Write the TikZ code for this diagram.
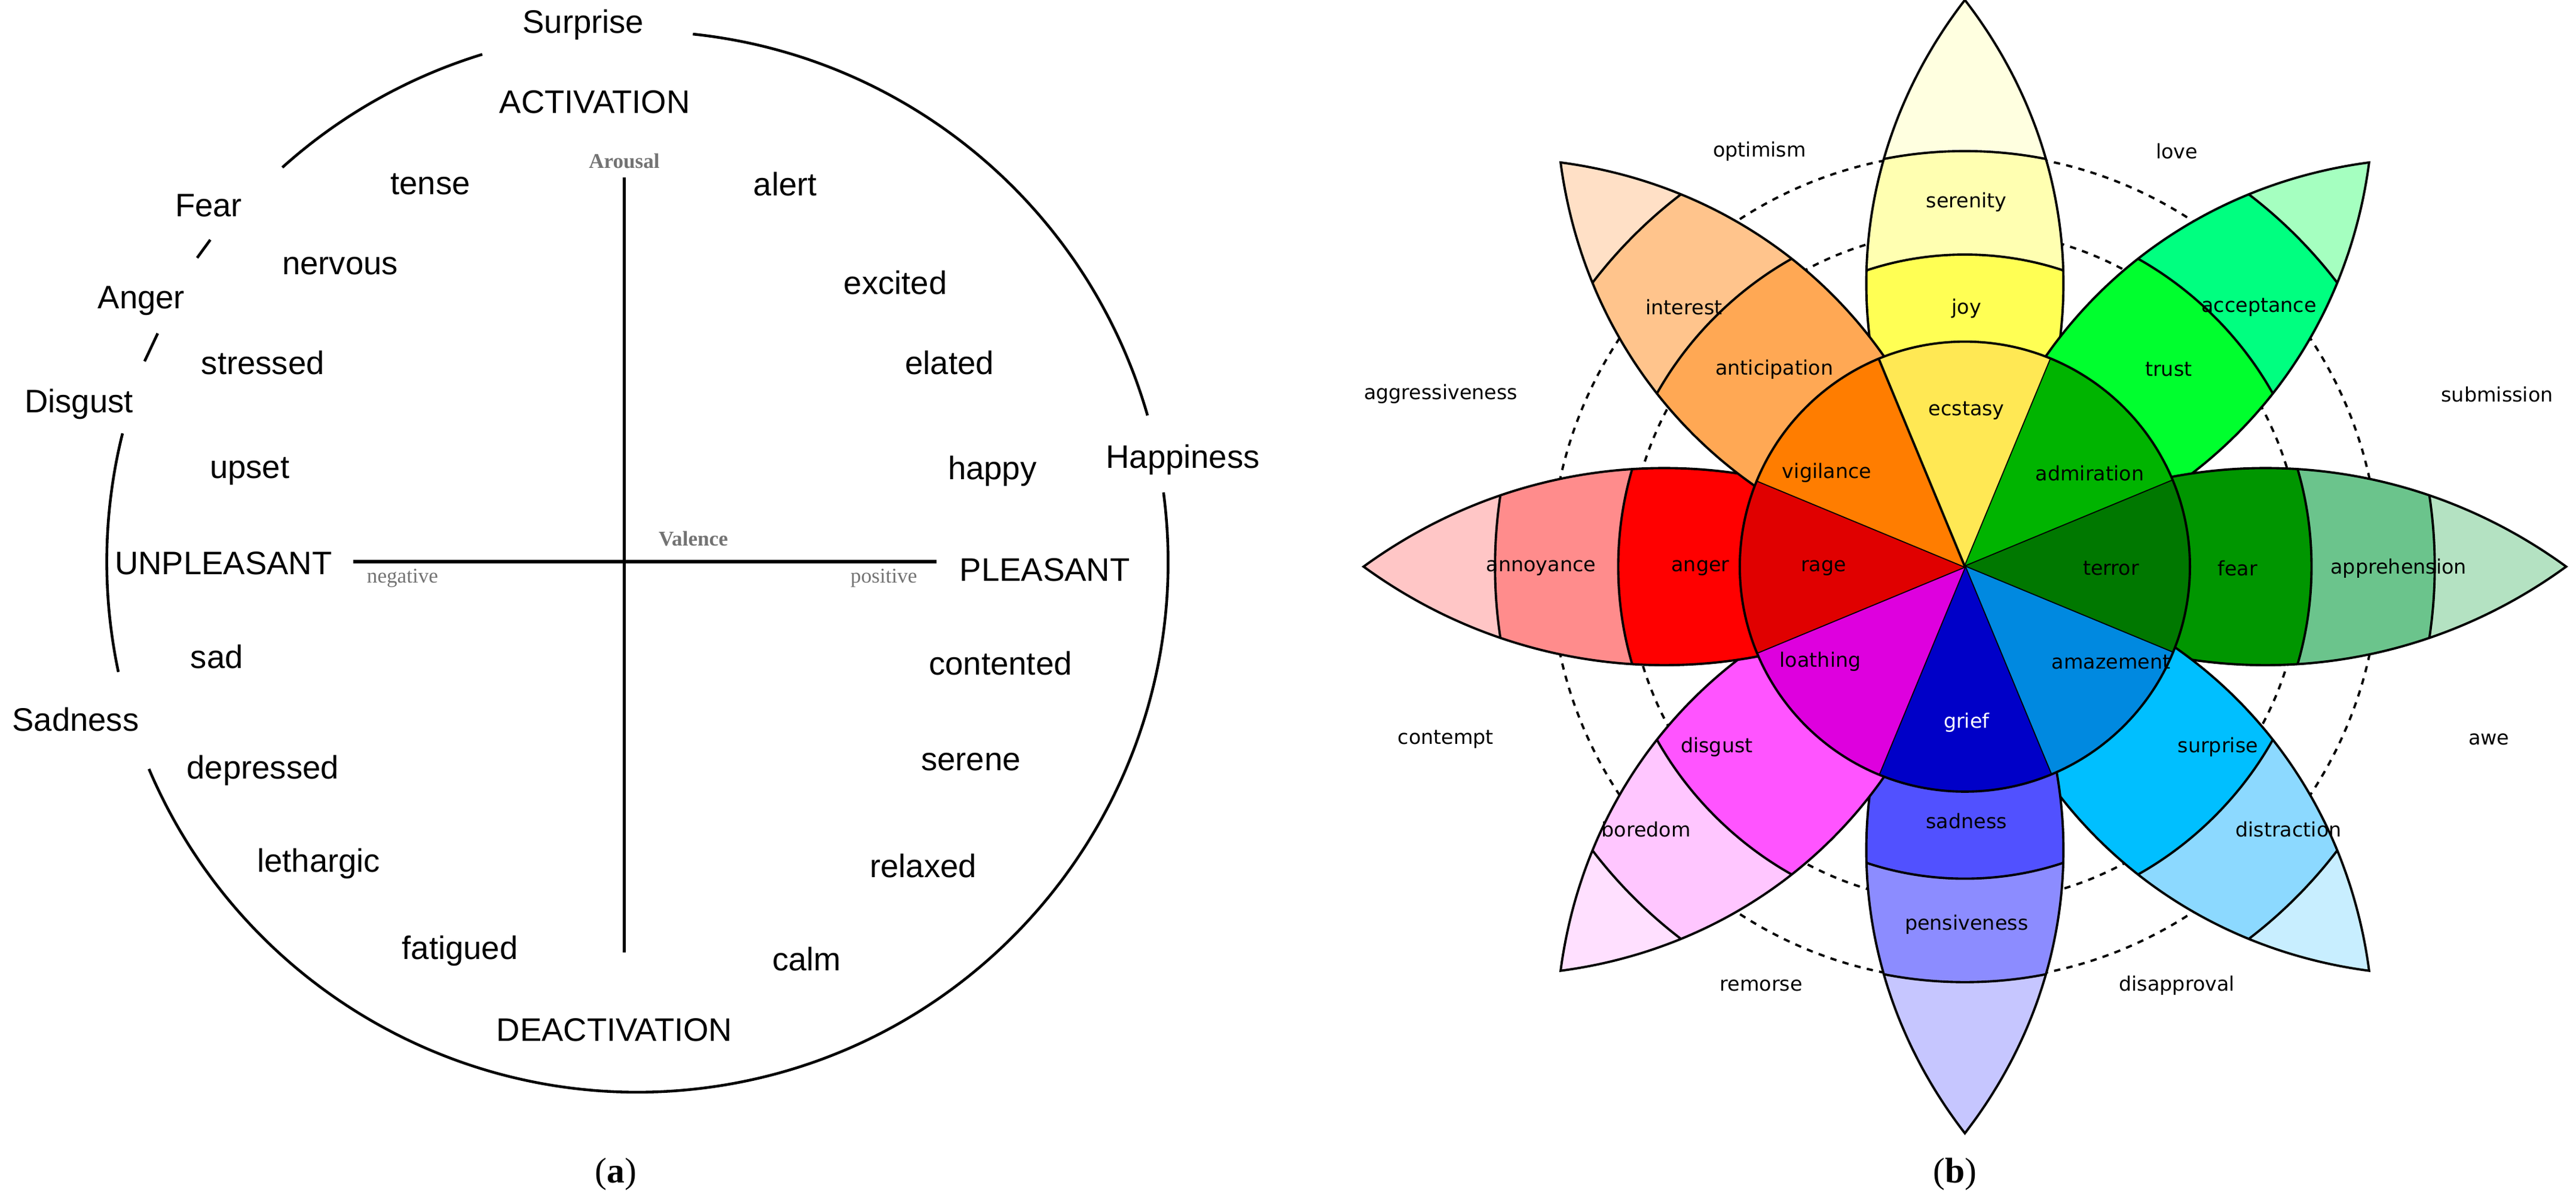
\documentclass[tikz,border=0pt]{standalone}
\usepackage{fontspec}
\setmainfont{Liberation Serif}
\newfontfamily\arialf{Liberation Sans}
\newfontfamily\dejaf{DejaVu Sans}
\definecolor{joyA}{HTML}{FFE854}\definecolor{joyB}{HTML}{FFFF54}\definecolor{joyC}{HTML}{FFFFB1}\definecolor{joyD}{HTML}{FFFFE0}
\definecolor{trA}{HTML}{00B400}\definecolor{trB}{HTML}{00FF2E}\definecolor{trC}{HTML}{00FF80}\definecolor{trD}{HTML}{A5FFC0}
\definecolor{feA}{HTML}{007800}\definecolor{feB}{HTML}{009600}\definecolor{feC}{HTML}{6BC48C}\definecolor{feD}{HTML}{B4E2C2}
\definecolor{suA}{HTML}{0089E0}\definecolor{suB}{HTML}{00BFFF}\definecolor{suC}{HTML}{8CD9FF}\definecolor{suD}{HTML}{C8EEFF}
\definecolor{saA}{HTML}{0000C8}\definecolor{saB}{HTML}{5151FF}\definecolor{saC}{HTML}{8C8CFF}\definecolor{saD}{HTML}{C6C6FF}
\definecolor{diA}{HTML}{DE00DE}\definecolor{diB}{HTML}{FF54FF}\definecolor{diC}{HTML}{FFC6FF}\definecolor{diD}{HTML}{FFE0FF}
\definecolor{anA}{HTML}{E00000}\definecolor{anB}{HTML}{FF0000}\definecolor{anC}{HTML}{FF8C8C}\definecolor{anD}{HTML}{FFC6C6}
\definecolor{ntA}{HTML}{FF7D00}\definecolor{ntB}{HTML}{FFA854}\definecolor{ntC}{HTML}{FFC48C}\definecolor{ntD}{HTML}{FFE0C6}
\begin{document}
\begin{tikzpicture}[x=0.02749cm,y=0.02749cm,
  lab/.style={font=\arialf\fontsize{15.5}{17}\selectfont,inner sep=0},
  ax/.style={font=\bfseries\fontsize{10}{12}\selectfont,text=gray!90!black,inner sep=0},
  axs/.style={font=\fontsize{10}{12}\selectfont,text=gray!90!black,inner sep=0},
  pl/.style={font=\dejaf\fontsize{9.5}{11}\selectfont,inner sep=0},
  edge/.style={line width=1.3pt},
  pedge/.style={line width=1.1pt}]
\useasboundingbox (0,0) rectangle (1568,731);
% ---------- panel (a)
\begin{scope}[shift={(388,389)}]
\draw[edge] (132:323) arc[start angle=132,end angle=107,radius=323];
\draw[edge] (84:323) arc[start angle=84,end angle=16,radius=323];
\draw[edge] (7.5:323) arc[start angle=7.5,end angle=-157,radius=323];
\draw[edge] (192:323) arc[start angle=192,end angle=166,radius=323];
\end{scope}
\coordinate (s1) at (88,511); \coordinate (s2) at (96,528);
\coordinate (s3) at (120,574); \coordinate (s4) at (128,585);
\draw[edge] (s1) -- (s2); \draw[edge] (s3) -- (s4);
\coordinate (vt) at (380,623); \coordinate (vb) at (380,151);
\coordinate (hl) at (215,389); \coordinate (hr) at (570,389);
\draw[line width=1.6pt] (vt) -- (vb);
\draw[line width=1.6pt] (hl) -- (hr);
\node[ax] (arousal) at (380,633) {Arousal};
\node[ax] (valence) at (422,403) {Valence};
\node[axs] (neg) at (245,379) {negative};
\node[axs] (pos) at (538,379) {positive};
\node[lab] (surprise) at (355,716) {Surprise};
\node[lab] (act) at (362,669) {ACTIVATION};
\node[lab] (tense) at (262,619) {tense};
\node[lab] (alert) at (478,619) {alert};
\node[lab] (fear) at (127,606) {Fear};
\node[lab] (nervous) at (207,569) {nervous};
\node[lab] (excited) at (545,559) {excited};
\node[lab] (anger) at (86,548) {Anger};
\node[lab] (stressed) at (160,510) {stressed};
\node[lab] (elated) at (578,510) {elated};
\node[lab] (disgust) at (48,485) {Disgust};
\node[lab] (upset) at (152,444) {upset};
\node[lab] (happy) at (604,444) {happy};
\node[lab] (happiness) at (720,451) {Happiness};
\node[lab] (unpl) at (136,388) {UNPLEASANT};
\node[lab] (pleas) at (636,384) {PLEASANT};
\node[lab] (sad) at (132,331) {sad};
\node[lab] (contented) at (609,327) {contented};
\node[lab] (sadness) at (46,293) {Sadness};
\node[lab] (depressed) at (160,262) {depressed};
\node[lab] (serene) at (591,267) {serene};
\node[lab] (lethargic) at (194,205) {lethargic};
\node[lab] (relaxed) at (562,204) {relaxed};
\node[lab] (fatigued) at (280,152) {fatigued};
\node[lab] (calm) at (491,147) {calm};
\node[lab] (deact) at (374,104) {DEACTIVATION};
\node[font=\fontsize{17}{19}\selectfont] (capa) at (375,16) {(\textbf{a})};
\node[font=\fontsize{17}{19}\selectfont] (capb) at (1190,16) {(\textbf{b})};
% ---------- panel (b)
% #1 angle, #2 length, #3 r2, #4 r3, #5 band1, #6 band2, #7 tip
\newcommand\mypetal[7]{%
 \begin{scope}[rotate=#1]
  \begin{scope}
   \clip (0,0) .. controls ({0.3*#2},80) and ({0.7*#2},80) .. (#2,0) .. controls ({0.7*#2},-80) and ({0.3*#2},-80) .. (0,0);
   \fill[#7] (-10,-200) rectangle (#2+10,200);
   \fill[#6] (0,0) circle[radius=#4];
   \fill[#5] (0,0) circle[radius=#3];
   \draw[pedge] (0,0) circle[radius=#4];
   \draw[pedge] (0,0) circle[radius=#3];
  \end{scope}
  \draw[pedge] (0,0) .. controls ({0.3*#2},80) and ({0.7*#2},80) .. (#2,0) .. controls ({0.7*#2},-80) and ({0.3*#2},-80) .. (0,0);
 \end{scope}}
\newcommand\mysector[2]{%
 \fill[#2] (0,0) -- ({#1-22.5}:137) arc[start angle={#1-22.5},end angle={#1+22.5},radius=137] -- cycle;
 \draw[pedge] (0,0) -- ({#1-22.5}:137);}
\begin{scope}[shift={(1196,386)}]
 \draw[dashed,line width=1.1pt] (0,0) circle[radius=205];
 \draw[dashed,line width=1.1pt] (0,0) circle[radius=252];
 \mypetal{90}{345}{190}{253}{joyB}{joyC}{joyD}
 \mypetal{45}{348}{215}{285}{trB}{trC}{trD}
 \mypetal{0}{366}{211}{286}{feB}{feC}{feD}
 \mypetal{-45}{348}{215}{285}{suB}{suC}{suD}
 \mypetal{-90}{345}{190}{253}{saB}{saC}{saD}
 \mypetal{-135}{348}{215}{285}{diB}{diC}{diD}
 \mypetal{180}{366}{211}{286}{anB}{anC}{anD}
 \mypetal{135}{348}{215}{285}{ntB}{ntC}{ntD}
 \mysector{90}{joyA}
 \mysector{45}{trA}
 \mysector{0}{feA}
 \mysector{-45}{suA}
 \mysector{-90}{saA}
 \mysector{-135}{diA}
 \mysector{180}{anA}
 \mysector{135}{ntA}
 \draw[pedge] (0,0) circle[radius=137];
\end{scope}
\node[pl] (serenity) at (1197,608) {serenity};
\node[pl] (joy) at (1197,543) {joy};
\node[pl] (ecstasy) at (1197,481) {ecstasy};
\node[pl] (interest) at (1025,544) {interest};
\node[pl] (anticipation) at (1080,506) {anticipation};
\node[pl] (vigilance) at (1112,443) {vigilance};
\node[pl] (acceptance) at (1375,544) {acceptance};
\node[pl] (trust) at (1320,506) {trust};
\node[pl] (admiration) at (1272,443) {admiration};
\node[pl] (annoyance) at (938,385) {annoyance};
\node[pl] (angerb) at (1035,385) {anger};
\node[pl] (rage) at (1110,385) {rage};
\node[pl] (terror) at (1285,385) {terror};
\node[pl] (fearb) at (1362,385) {fear};
\node[pl] (apprehension) at (1460,385) {apprehension};
\node[pl] (loathing) at (1108,328) {loathing};
\node[pl] (amazement) at (1285,328) {amazement};
\node[pl] (disgustb) at (1045,276) {disgust};
\node[pl] (surpriseb) at (1350,276) {surprise};
\node[pl,text=white] (grief) at (1197,291) {grief};
\node[pl] (boredom) at (1002,226) {boredom};
\node[pl] (distraction) at (1393,226) {distraction};
\node[pl] (sadnessb) at (1197,231) {sadness};
\node[pl] (pensiveness) at (1197,168) {pensiveness};
\node[pl] (optimism) at (1071,639) {optimism};
\node[pl] (love) at (1325,639) {love};
\node[pl] (submission) at (1520,491) {submission};
\node[pl] (aggr) at (877,491) {aggressiveness};
\node[pl] (awe) at (1515,281) {awe};
\node[pl] (contempt) at (880,281) {contempt};
\node[pl] (disapproval) at (1325,131) {disapproval};
\node[pl] (remorse) at (1072,131) {remorse};
\end{tikzpicture}
\end{document}
